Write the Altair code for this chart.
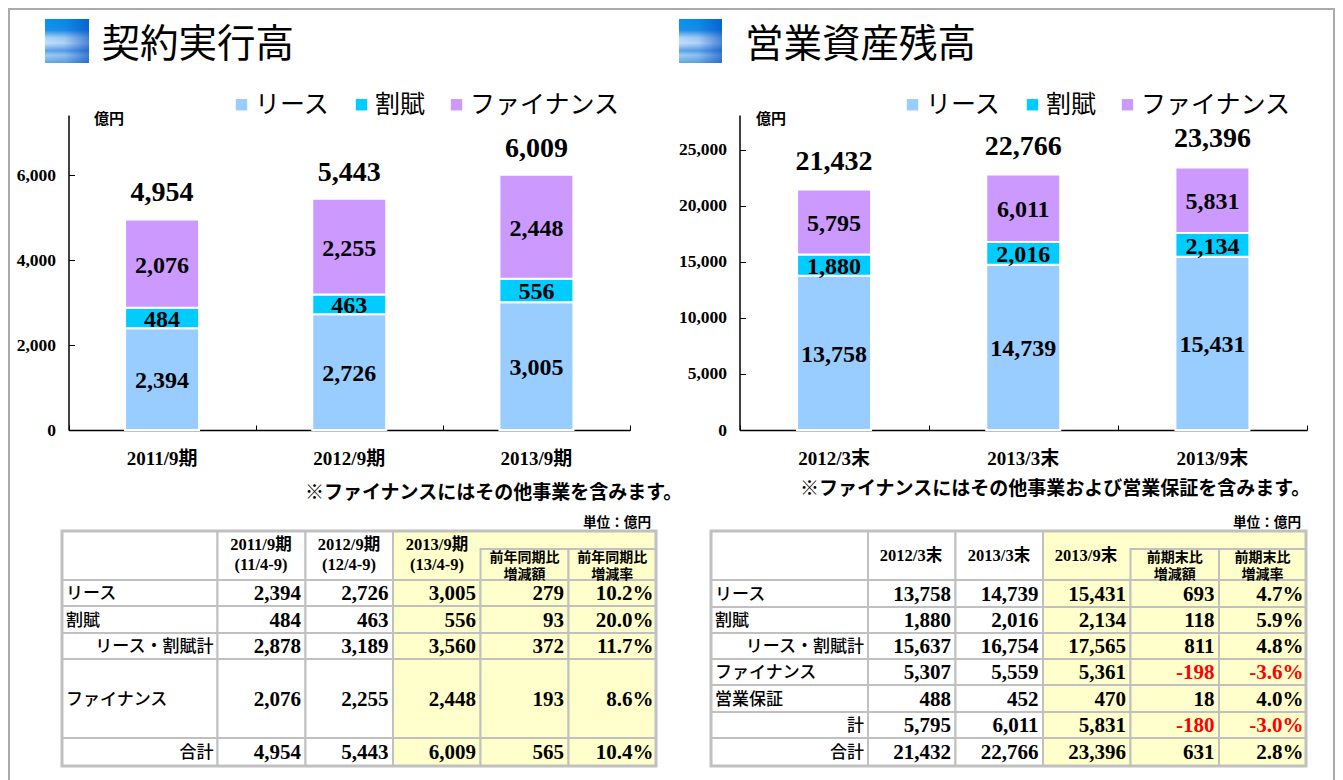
import altair as alt
import pandas as pd

# ---------- data ----------
SERIES = ["リース", "割賦", "ファイナンス"]
COLORS = ["#99CCFF", "#00CCFF", "#CC99FF"]

L_CATS = ["2011/9期", "2012/9期", "2013/9期"]
L_LEASE = [2394, 2726, 3005]
L_INST = [484, 463, 556]
L_FIN = [2076, 2255, 2448]
L_TOTAL = [4954, 5443, 6009]
L_TICKS = [0, 2000, 4000, 6000]

R_CATS = ["2012/3末", "2013/3末", "2013/9末"]
R_LEASE = [13758, 14739, 15431]
R_INST = [1880, 2016, 2134]
R_FIN = [5795, 6011, 5831]
R_TOTAL = [21432, 22766, 23396]
R_TICKS = [0, 5000, 10000, 15000, 20000, 25000]

L_ROWS = ["リース", "割賦", "リース・割賦計", "ファイナンス", "合計"]
L_TABLE = [
    ["2,394", "2,726", "3,005", "279", "10.2%"],
    ["484", "463", "556", "93", "20.0%"],
    ["2,878", "3,189", "3,560", "372", "11.7%"],
    ["2,076", "2,255", "2,448", "193", "8.6%"],
    ["4,954", "5,443", "6,009", "565", "10.4%"],
]
R_ROWS = ["リース", "割賦", "リース・割賦計", "ファイナンス", "営業保証", "計", "合計"]
R_TABLE = [
    ["13,758", "14,739", "15,431", "693", "4.7%"],
    ["1,880", "2,016", "2,134", "118", "5.9%"],
    ["15,637", "16,754", "17,565", "811", "4.8%"],
    ["5,307", "5,559", "5,361", "-198", "-3.6%"],
    ["488", "452", "470", "18", "4.0%"],
    ["5,795", "6,011", "5,831", "-180", "-3.0%"],
    ["21,432", "22,766", "23,396", "631", "2.8%"],
]

# ---------- layout (page pixels; the canvas starts at 8,8) ----------
W, H = 1327, 772
OFF = 8
SERIF = 'Liberation Serif, "Noto Sans CJK JP"'
GOTHIC = '"Noto Sans CJK JP"'
GREY = "#C0C0C0"


def px_text(rows, size, font=GOTHIC, weight="normal", align="left"):
    df = pd.DataFrame(rows, columns=["x", "y", "t", "c"])
    df["x"] -= OFF
    df["y"] -= OFF
    return alt.Chart(df).mark_text(font=font, fontSize=size, fontWeight=weight, align=align, baseline="middle").encode(
        x=alt.X("x:Q", scale=None, axis=None),
        y=alt.Y("y:Q", scale=None, axis=None),
        text="t:N",
        color=alt.Color("c:N", scale=None),
    )


def px_rect(rows, stroke=GREY, width=2):
    df = pd.DataFrame(rows, columns=["x", "x2", "y", "y2", "f"])
    for k in ["x", "x2", "y", "y2"]:
        df[k] -= OFF
    return alt.Chart(df).mark_rect(stroke=stroke, strokeWidth=width).encode(
        x=alt.X("x:Q", scale=None, axis=None),
        x2="x2:Q",
        y=alt.Y("y:Q", scale=None, axis=None),
        y2="y2:Q",
        fill=alt.Fill("f:N", scale=None),
    )


def panel(cats, lease, inst, fin, totals, ticks, ytop, xr, yr, legend_xy, axis_px, seg_dy, total_dy):
    rows = []
    for s, vals in enumerate([lease, inst, fin]):
        for c, v in zip(cats, vals):
            rows.append(dict(cat=c, series=SERIES[s], order=s, value=v))
    df = pd.DataFrame(rows)
    y_scale = alt.Scale(domain=[0, ytop], range=yr, nice=False, zero=True)
    x_scale = alt.Scale(type="band", domain=cats, range=xr, paddingInner=0, paddingOuter=0)

    base = alt.Chart(df).transform_stack(
        stack="value", groupby=["cat"], as_=["y0", "y1"], sort=[alt.SortField("order", order="ascending")]
    )
    bars = base.mark_bar(size=74, stroke="white", strokeWidth=2).encode(
        x=alt.X("cat:N", sort=cats, scale=x_scale, title=None, axis=alt.Axis(
            orient="bottom", offset=yr[0] - H, ticks=False, domain=False, labelAngle=0,
            labelFont=SERIF, labelFontSize=19, labelFontWeight="bold", labelColor="black",
            labelPadding=19, labelBaseline="top", grid=False)),
        y=alt.Y("y0:Q", scale=y_scale, title=None, axis=alt.Axis(
            orient="left", offset=-xr[0], values=ticks, format=",d", ticks=False, domain=False, grid=False,
            labelFont=SERIF, labelFontSize=17.5, labelFontWeight="bold", labelColor="black", labelPadding=13)),
        y2="y1:Q",
        color=alt.Color("series:N", scale=alt.Scale(domain=SERIES, range=COLORS), legend=alt.Legend(
            orient="none", legendX=legend_xy[0], legendY=legend_xy[1], direction="horizontal", title=None,
            symbolType="square", symbolSize=130, symbolStrokeWidth=0, labelFont=GOTHIC, labelFontSize=25,
            labelColor="black", labelOffset=1, columnPadding=18, padding=0, labelLimit=300)),
    )
    seg_labels = base.transform_calculate(mid="(datum.y0 + datum.y1) / 2").mark_text(
        font=SERIF, fontSize=24, fontWeight="bold", color="black", dy=seg_dy, baseline="middle"
    ).encode(
        x=alt.X("cat:N", sort=cats, scale=x_scale, axis=None),
        y=alt.Y("mid:Q", scale=y_scale, axis=None),
        text=alt.Text("value:Q", format=",d"),
    )
    tot = alt.Chart(pd.DataFrame({"cat": cats, "total": totals})).mark_text(
        font=SERIF, fontSize=28, fontWeight="bold", color="black", dy=total_dy, baseline="middle"
    ).encode(
        x=alt.X("cat:N", sort=cats, scale=x_scale, axis=None),
        y=alt.Y("total:Q", scale=y_scale, axis=None),
        text=alt.Text("total:Q", format=",d"),
    )
    # inward-pointing ticks and the axis lines
    frame = alt.Chart(pd.DataFrame({"u": [0], "v": [0]})).mark_rule(opacity=0).encode(
        x=alt.X("u:Q", scale=alt.Scale(domain=[0, 3], range=xr, nice=False), title=None, axis=alt.Axis(
            orient="top", offset=-yr[0], values=[0, 1, 2, 3], labels=False, tickSize=5, tickColor="black",
            domainColor="black", domainWidth=1.5, grid=False)),
        y=alt.Y("v:Q", scale=y_scale, title=None, axis=alt.Axis(
            orient="right", offset=axis_px - W, values=ticks, labels=False, tickSize=6, tickColor="black",
            domainColor="black", domainWidth=1.5, grid=False)),
    )
    return [bars, seg_labels, tot, frame]


def icon(x0, x1):
    vertical = {"gradient": "linear", "x1": 0, "y1": 0, "x2": 0, "y2": 1, "stops": [
        {"offset": 0, "color": "#0094F0"}, {"offset": 0.25, "color": "#1C90E8"},
        {"offset": 0.42, "color": "#A8D4F8"}, {"offset": 0.55, "color": "#C4E0FA"},
        {"offset": 0.72, "color": "#5CA4E8"}, {"offset": 0.82, "color": "#A0CCF2"},
        {"offset": 1, "color": "#5EA8E6"}]}
    horizontal = {"gradient": "linear", "x1": 0, "y1": 0, "x2": 1, "y2": 0, "stops": [
        {"offset": 0, "color": "rgba(0,70,190,0)"}, {"offset": 0.45, "color": "rgba(0,70,190,0.1)"},
        {"offset": 1, "color": "rgba(0,70,190,0.6)"}]}
    df = pd.DataFrame({"x": [x0 - OFF], "x2": [x1 - OFF], "y": [19 - OFF], "y2": [63 - OFF]})
    out = []
    for g in (vertical, horizontal):
        out.append(alt.Chart(df).mark_rect(fill=g).encode(
            x=alt.X("x:Q", scale=None, axis=None), x2="x2:Q",
            y=alt.Y("y:Q", scale=None, axis=None), y2="y2:Q"))
    return out


def table(cols, rows_y, sub_y, row_names, values, right_rows, headers, subheads, unit_x):
    cells = []
    for i in range(len(cols) - 1):
        if i < 3:
            cells.append((cols[i], cols[i + 1], rows_y[0], rows_y[1], "#FFFFFF"))
    cells.append((cols[3], cols[6], rows_y[0], rows_y[1], "#FFFFCC"))
    cells.append((cols[4], cols[5], sub_y, rows_y[1], "#FFFFCC"))
    cells.append((cols[5], cols[6], sub_y, rows_y[1], "#FFFFCC"))
    for r in range(len(row_names)):
        for c in range(6):
            cells.append((cols[c], cols[c + 1], rows_y[r + 1], rows_y[r + 2], "#FFFFFF" if c < 3 else "#FFFFCC"))
    out = [px_rect(cells, width=2)]
    outer = [(cols[0], cols[-1], rows_y[0], rows_y[-1], "transparent")]
    out.append(px_rect(outer, width=3))

    nums = []
    left = []
    right = []
    for r, name in enumerate(row_names):
        cy = (rows_y[r + 1] + rows_y[r + 2]) / 2 + 1
        if r in right_rows:
            right.append((cols[1] - 4, cy, name, "black"))
        else:
            left.append((cols[0] + 4, cy, name, "black"))
        for c, v in enumerate(values[r]):
            inset = 2.5 if c == 4 else 4.5
            nums.append((cols[c + 2] - inset, cy, v, "#FF0000" if v.startswith("-") else "black"))
    out.append(px_text(nums, 21, SERIF, "bold", "right"))
    out.append(px_text(left, 17, GOTHIC, 500, "left"))
    out.append(px_text(right, 17, GOTHIC, 500, "right"))
    out.append(px_text(headers, 16.5, SERIF, "bold", "center"))
    sub = []
    for k, (a, b) in enumerate(subheads):
        cx = (cols[4 + k] + cols[5 + k]) / 2
        sub.append((cx, sub_y + 9, a, "black"))
        sub.append((cx, sub_y + 26, b, "black"))
    out.append(px_text(sub, 14, GOTHIC, "bold", "center"))
    out.append(px_text([(unit_x, 523, "単位：億円", "black")], 13.6, GOTHIC, "bold", "right"))
    return out


# ---------- assemble ----------
layers = []
layers.append(alt.Chart(pd.DataFrame({
    "x": [1, 1, 1326], "x2": [1, 1326, 1326], "y": [0, 1, 0], "y2": [772, 1, 772]
})).mark_rule(color="#ABABAB", strokeWidth=2).encode(
    x=alt.X("x:Q", scale=None, axis=None), x2="x2:Q",
    y=alt.Y("y:Q", scale=None, axis=None), y2="y2:Q"))

layers += icon(45, 89) + icon(679, 722)
layers.append(px_text([(101.5, 45, "契約実行高", "black"), (745, 45, "営業資産残高", "black")], 38.5))
layers.append(px_text([(94, 119, "億円", "black"), (756, 119, "億円", "black")], 15, GOTHIC, "bold"))
layers.append(px_text([(305, 493, "※ファイナンスにはその他事業を含みます。", "black"),
                       (800, 489, "※ファイナンスにはその他事業および営業保証を含みます。", "black")], 19, GOTHIC, "bold"))

layers += panel(L_CATS, L_LEASE, L_INST, L_FIN, L_TOTAL, L_TICKS, 7412, [60.5, 622], [422, 107],
                (221, 84), 60.5, 2, -26)
layers += panel(R_CATS, R_LEASE, R_INST, R_FIN, R_TOTAL, R_TICKS, 28075, [731.5, 1299], [422, 107],
                (892, 84), 731.5, 2, -28)

layers += table([62, 217.5, 305.5, 393, 480.5, 568.5, 656], [531, 580, 606, 633, 659, 738, 766], 549,
                L_ROWS, L_TABLE, {2, 4},
                [(261, 545, "2011/9期", "black"), (261, 565, "(11/4-9)", "black"),
                 (349, 545, "2012/9期", "black"), (349, 565, "(12/4-9)", "black"),
                 (437, 545, "2013/9期", "black"), (437, 565, "(13/4-9)", "black")],
                [("前年同期比", "増減額"), ("前年同期比", "増減率")], 651)
layers += table([711, 868, 955.5, 1043, 1130.5, 1219, 1306], [531, 580, 607, 633, 659, 685, 712, 738, 766], 549,
                R_ROWS, R_TABLE, {2, 5, 6},
                [(911, 556, "2012/3末", "black"), (999, 556, "2013/3末", "black"), (1086, 556, "2013/9末", "black")],
                [("前期末比", "増減額"), ("前期末比", "増減率")], 1301)

chart = alt.layer(*layers).resolve_scale(x="independent", y="independent", color="independent", fill="independent").resolve_axis(
    x="independent", y="independent"
).properties(width=W, height=H, padding=0, autosize=alt.AutoSizeParams(type="none")).configure_view(stroke=None)

chart.save("out.html", embed_options={"renderer": "svg", "actions": False})
